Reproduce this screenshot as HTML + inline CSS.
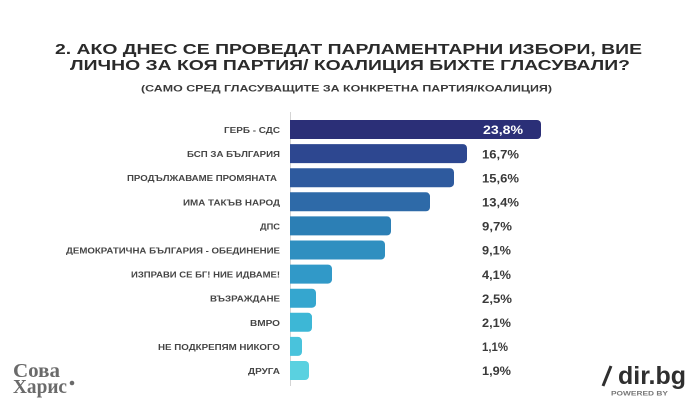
<!DOCTYPE html>
<html><head><meta charset="utf-8"><style>
html,body{margin:0;padding:0;background:#fff;}
svg{display:block;}
text{font-family:"Liberation Sans","DejaVu Sans",sans-serif;}
</style></head><body>
<svg width="696" height="418" viewBox="0 0 696 418" xmlns="http://www.w3.org/2000/svg">
<rect width="696" height="418" fill="#fff"/>
<g fill="#2a2a2a" font-weight="bold">
<text x="55" y="54" font-size="15" textLength="587" lengthAdjust="spacingAndGlyphs">2.  АКО ДНЕС СЕ ПРОВЕДАТ ПАРЛАМЕНТАРНИ ИЗБОРИ, ВИЕ</text>
<text x="70" y="70" font-size="15" textLength="560" lengthAdjust="spacingAndGlyphs">ЛИЧНО ЗА КОЯ ПАРТИЯ/ КОАЛИЦИЯ БИХТЕ ГЛАСУВАЛИ?</text>
<text x="141" y="91.5" font-size="8.8" fill="#3a3a3a" textLength="411" lengthAdjust="spacingAndGlyphs">(САМО СРЕД ГЛАСУВАЩИТЕ ЗА КОНКРЕТНА ПАРТИЯ/КОАЛИЦИЯ)</text>
</g>
<line x1="290.5" y1="112" x2="290.5" y2="386" stroke="#d4d4d4" stroke-width="1"/>
<g>
<path d="M290,120 h247 a4,4 0 0 1 4,4 v11 a4,4 0 0 1 -4,4 h-247 z" fill="#2b2f77"/>
<path d="M290,144.1 h173 a4,4 0 0 1 4,4 v11 a4,4 0 0 1 -4,4 h-173 z" fill="#2d4790"/>
<path d="M290,168.2 h160 a4,4 0 0 1 4,4 v11 a4,4 0 0 1 -4,4 h-160 z" fill="#2e5a9e"/>
<path d="M290,192.3 h136 a4,4 0 0 1 4,4 v11 a4,4 0 0 1 -4,4 h-136 z" fill="#2e6aa8"/>
<path d="M290,216.4 h97 a4,4 0 0 1 4,4 v11 a4,4 0 0 1 -4,4 h-97 z" fill="#2c7fb5"/>
<path d="M290,240.5 h91 a4,4 0 0 1 4,4 v11 a4,4 0 0 1 -4,4 h-91 z" fill="#2f8fc0"/>
<path d="M290,264.6 h38 a4,4 0 0 1 4,4 v11 a4,4 0 0 1 -4,4 h-38 z" fill="#3199c8"/>
<path d="M290,288.7 h22 a4,4 0 0 1 4,4 v11 a4,4 0 0 1 -4,4 h-22 z" fill="#35a6cf"/>
<path d="M290,312.8 h18 a4,4 0 0 1 4,4 v11 a4,4 0 0 1 -4,4 h-18 z" fill="#3db7d6"/>
<path d="M290,336.9 h8 a4,4 0 0 1 4,4 v11 a4,4 0 0 1 -4,4 h-8 z" fill="#49c3dc"/>
<path d="M290,361 h15 a4,4 0 0 1 4,4 v11 a4,4 0 0 1 -4,4 h-15 z" fill="#5ad1e0"/>
</g>
<g font-size="8" font-weight="bold" fill="#454545" text-anchor="end">
<text x="280" y="133" textLength="56" lengthAdjust="spacingAndGlyphs">ГЕРБ - СДС</text>
<text x="280" y="157.1" textLength="93" lengthAdjust="spacingAndGlyphs">БСП ЗА БЪЛГАРИЯ</text>
<text x="277" y="181.2" textLength="150" lengthAdjust="spacingAndGlyphs">ПРОДЪЛЖАВАМЕ ПРОМЯНАТА</text>
<text x="280" y="205.3" textLength="97" lengthAdjust="spacingAndGlyphs">ИМА ТАКЪВ НАРОД</text>
<text x="280" y="229.4" textLength="20" lengthAdjust="spacingAndGlyphs">ДПС</text>
<text x="280" y="253.5" textLength="214" lengthAdjust="spacingAndGlyphs">ДЕМОКРАТИЧНА БЪЛГАРИЯ - ОБЕДИНЕНИЕ</text>
<text x="280" y="277.6" textLength="149" lengthAdjust="spacingAndGlyphs">ИЗПРАВИ СЕ БГ! НИЕ ИДВАМЕ!</text>
<text x="280" y="301.7" textLength="70" lengthAdjust="spacingAndGlyphs">ВЪЗРАЖДАНЕ</text>
<text x="280" y="325.8" textLength="30" lengthAdjust="spacingAndGlyphs">ВМРО</text>
<text x="280" y="349.9" textLength="122" lengthAdjust="spacingAndGlyphs">НЕ ПОДКРЕПЯМ НИКОГО</text>
<text x="280" y="374" textLength="32" lengthAdjust="spacingAndGlyphs">ДРУГА</text>
</g>
<g font-size="11.5" font-weight="bold" fill="#3a3a3a">
<text x="483" y="134.2" fill="#ffffff" textLength="40" lengthAdjust="spacingAndGlyphs">23,8%</text>
<text x="482" y="158.3" textLength="37" lengthAdjust="spacingAndGlyphs">16,7%</text>
<text x="482" y="182.4" textLength="37" lengthAdjust="spacingAndGlyphs">15,6%</text>
<text x="482" y="206.5" textLength="37" lengthAdjust="spacingAndGlyphs">13,4%</text>
<text x="482" y="230.6" textLength="30" lengthAdjust="spacingAndGlyphs">9,7%</text>
<text x="482" y="254.7" textLength="29" lengthAdjust="spacingAndGlyphs">9,1%</text>
<text x="482" y="278.8" textLength="29" lengthAdjust="spacingAndGlyphs">4,1%</text>
<text x="482" y="302.9" textLength="30" lengthAdjust="spacingAndGlyphs">2,5%</text>
<text x="482" y="327" textLength="29" lengthAdjust="spacingAndGlyphs">2,1%</text>
<text x="482" y="351.1" textLength="26" lengthAdjust="spacingAndGlyphs">1,1%</text>
<text x="482" y="375.2" textLength="29" lengthAdjust="spacingAndGlyphs">1,9%</text>
</g>
<g font-family="Liberation Serif, serif" font-weight="bold" fill="#6a6a6a">
<text x="13" y="377" font-size="20" style="font-family:'Liberation Serif',serif" textLength="47" lengthAdjust="spacingAndGlyphs">Сова</text>
<text x="13" y="393" font-size="20" style="font-family:'Liberation Serif',serif" textLength="54" lengthAdjust="spacingAndGlyphs">Харис</text>
<circle cx="72" cy="383" r="2.3" fill="#6a6a6a"/>
</g>
<line x1="603" y1="386" x2="611" y2="366" stroke="#2f2f2f" stroke-width="3"/>
<text x="618" y="384" font-size="25" font-weight="bold" fill="#2f2f2f" textLength="68" lengthAdjust="spacingAndGlyphs">dir.bg</text>
<text x="611" y="395.5" font-size="6" font-weight="bold" fill="#777" textLength="57" lengthAdjust="spacingAndGlyphs">POWERED BY</text>
</svg>
</body></html>
